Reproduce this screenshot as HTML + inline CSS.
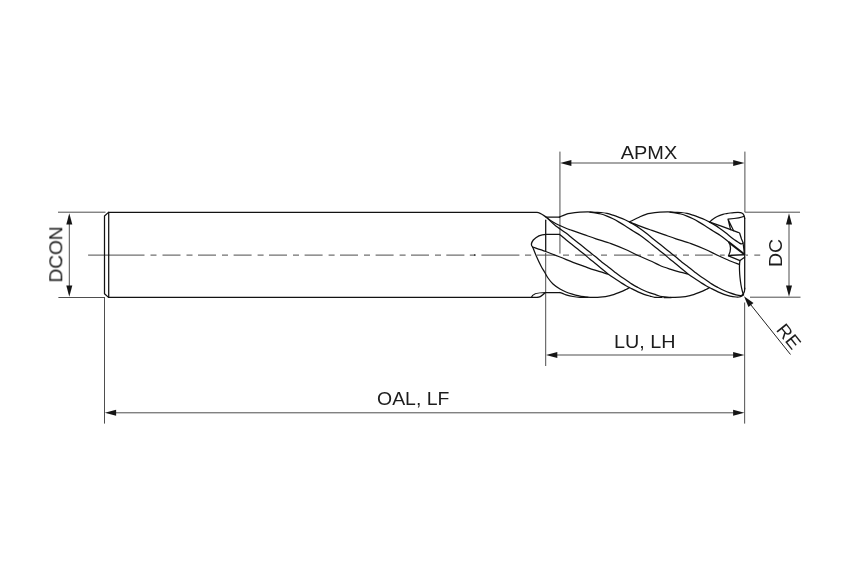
<!DOCTYPE html>
<html lang="en"><head><meta charset="utf-8"><title>End mill dimension drawing</title>
<style>html,body{margin:0;padding:0;background:#fff;}body{width:850px;height:567px;overflow:hidden;}svg{display:block;}</style></head>
<body>
<svg width="850" height="567" viewBox="0 0 850 567">
<defs><filter id="gs" x="0" y="0" width="850" height="567" filterUnits="userSpaceOnUse" color-interpolation-filters="sRGB"><feColorMatrix type="saturate" values="0"/></filter></defs>
<rect width="850" height="567" fill="#fff"/>
<path d="M88.1,255.1H144.5M150.5,255.1H156.5M162.5,255.1H180.5M186.5,255.1H192.5M198.0,255.1H216.0M222.0,255.1H228.0M233.6,255.1H251.6M257.6,255.1H263.6M269.0,255.1H287.0M293.0,255.1H299.0M304.6,255.1H322.6M328.6,255.1H334.6M340.0,255.1H358.0M364.0,255.1H370.0M375.6,255.1H393.6M399.6,255.1H405.6M411.0,255.1H429.0M435.0,255.1H441.0M446.3,255.1H464.4M469.8,255.1H475.6M481.4,255.1H519.4M525.0,255.1H531.2M537.0,255.1H555.0M563.0,255.1H569.0M575.0,255.1H592.0M601.0,255.1H607.0M614.0,255.1H641.0M647.5,255.1H654.0M659.5,255.1H677.0M683.0,255.1H689.0M695.0,255.1H712.7M720.0,255.1H724.7M730.5,255.1H744.0M745.8,255.1H748.0M754.3,255.1H760.2" fill="none" stroke="#707070" stroke-width="1.4"/>
<g fill="none" stroke="#444" stroke-width="0.95">
<path d="M58,212.2 H105.5"/>
<path d="M58.4,297.5 H105"/>
<path d="M69.3,216 V294"/>
<path d="M104.5,297.5 V423.6"/>
<path d="M110,412.8 H740"/>
<path d="M559.95,151.6 V253.6"/>
<path d="M744.9,151.6 V212"/>
<path d="M565,163 H740"/>
<path d="M744.7,212.2 H800"/>
<path d="M750,297.2 H800.5"/>
<path d="M789,218 V292"/>
<path d="M545.7,253 V366"/>
<path d="M551,355 H740"/>
<path d="M744.65,302.5 V423.6"/>
</g>
<path d="M748,301.3 L790.5,354.5" fill="none" stroke="#222" stroke-width="1"/>
<circle cx="474.7" cy="255" r="0.8" fill="#111"/>
<g fill="#151515" stroke="none">
<path d="M69.30,213.20 L72.30,224.50 L66.30,224.50 Z"/>
<path d="M69.30,296.80 L66.30,285.50 L72.30,285.50 Z"/>
<path d="M104.80,412.80 L116.10,409.80 L116.10,415.80 Z"/>
<path d="M744.40,412.80 L733.10,415.80 L733.10,409.80 Z"/>
<path d="M560.10,163.00 L571.40,160.00 L571.40,166.00 Z"/>
<path d="M744.50,163.00 L733.20,166.00 L733.20,160.00 Z"/>
<path d="M789.00,213.20 L792.00,224.50 L786.00,224.50 Z"/>
<path d="M789.00,296.70 L786.00,285.40 L792.00,285.40 Z"/>
<path d="M546.00,355.00 L557.30,352.00 L557.30,358.00 Z"/>
<path d="M744.40,355.00 L733.10,358.00 L733.10,352.00 Z"/>
<path d="M744.00,296.30 L753.49,303.06 L748.49,307.05 Z"/>
</g>
<g fill="none" stroke="#121212" stroke-width="1.25" stroke-linecap="round" stroke-linejoin="round">
<path d="M108.5,212.4 L104.5,216 V293.7 L108.5,297.4"/>
<path d="M108.7,212.4 V297.4"/>
<path d="M108.5,212.4 H537 C540,212.4 542.5,214.6 546.5,217.4"/>
<path d="M108.5,297.4 H537.5"/>
<path d="M546.3,217.2 H559.6"/>
<path d="M559.60,217.20 C559.67,217.13 558.93,217.28 560.00,216.80 C561.07,216.32 564.33,214.88 566.00,214.30 C567.67,213.72 567.67,213.65 570.00,213.30 C572.33,212.95 577.00,212.43 580.00,212.20 C583.00,211.97 585.50,211.88 588.00,211.90 C590.50,211.92 592.83,212.20 595.00,212.30 C597.17,212.40 599.00,212.32 601.00,212.50 C603.00,212.68 605.00,212.95 607.00,213.40 C609.00,213.85 611.00,214.55 613.00,215.20 C615.00,215.85 617.00,216.55 619.00,217.30 C621.00,218.05 623.20,218.90 625.00,219.70 C626.80,220.50 627.80,220.98 629.80,222.10 C631.80,223.22 635.30,225.32 637.00,226.40 C638.70,227.48 638.50,227.48 640.00,228.60 C641.50,229.72 644.00,231.55 646.00,233.10 C648.00,234.65 650.00,236.30 652.00,237.90 C654.00,239.50 656.00,241.10 658.00,242.70 C660.00,244.30 662.00,245.90 664.00,247.50 C666.00,249.10 668.00,250.70 670.00,252.30 C672.00,253.90 674.00,255.45 676.00,257.10 C678.00,258.75 680.00,260.58 682.00,262.20 C684.00,263.82 686.00,265.27 688.00,266.80 C690.00,268.33 692.00,269.87 694.00,271.40 C696.00,272.93 698.00,274.58 700.00,276.00 C702.00,277.42 704.00,278.55 706.00,279.90 C708.00,281.25 710.00,282.83 712.00,284.10 C714.00,285.37 716.00,286.43 718.00,287.50 C720.00,288.57 722.00,289.60 724.00,290.50 C726.00,291.40 728.00,292.18 730.00,292.90 C732.00,293.62 734.20,294.35 736.00,294.80 C737.80,295.25 739.63,295.70 740.80,295.60 C741.97,295.50 742.40,294.88 743.00,294.20 C743.60,293.52 744.12,292.53 744.40,291.50 C744.68,290.47 744.65,288.58 744.70,288.00"/>
<path d="M590.00,212.20 C590.83,212.32 593.17,212.60 595.00,212.90 C596.83,213.20 599.00,213.47 601.00,214.00 C603.00,214.53 605.00,215.30 607.00,216.10 C609.00,216.90 611.00,217.80 613.00,218.80 C615.00,219.80 617.00,220.95 619.00,222.10 C621.00,223.25 623.00,224.45 625.00,225.70 C627.00,226.95 629.00,228.32 631.00,229.60 C633.00,230.88 635.50,232.45 637.00,233.40 C638.50,234.35 638.50,234.25 640.00,235.30 C641.50,236.35 644.00,238.17 646.00,239.70 C648.00,241.23 650.00,242.90 652.00,244.50 C654.00,246.10 656.00,247.70 658.00,249.30 C660.00,250.90 662.00,252.45 664.00,254.10 C666.00,255.75 668.00,257.55 670.00,259.20 C672.00,260.85 674.00,262.35 676.00,264.00 C678.00,265.65 680.00,267.45 682.00,269.10 C684.00,270.75 686.00,272.40 688.00,273.90 C690.00,275.40 692.00,276.75 694.00,278.10 C696.00,279.45 698.00,280.72 700.00,282.00 C702.00,283.28 704.00,284.65 706.00,285.80 C708.00,286.95 710.00,287.88 712.00,288.90 C714.00,289.92 716.00,291.00 718.00,291.90 C720.00,292.80 722.00,293.60 724.00,294.30 C726.00,295.00 728.00,295.65 730.00,296.10 C732.00,296.55 734.50,296.85 736.00,297.00 C737.50,297.15 738.00,297.18 739.00,297.00 C740.00,296.82 741.28,296.32 742.00,295.90 C742.72,295.48 743.08,294.73 743.30,294.50"/>
<path d="M546.50,217.40 C547.92,218.72 551.75,222.68 555.00,225.30 C558.25,227.92 563.17,231.00 566.00,233.10 C568.83,235.20 570.00,236.30 572.00,237.90 C574.00,239.50 576.00,241.10 578.00,242.70 C580.00,244.30 582.00,245.90 584.00,247.50 C586.00,249.10 588.00,250.70 590.00,252.30 C592.00,253.90 594.00,255.45 596.00,257.10 C598.00,258.75 600.00,260.58 602.00,262.20 C604.00,263.82 606.00,265.27 608.00,266.80 C610.00,268.33 612.00,269.87 614.00,271.40 C616.00,272.93 618.00,274.58 620.00,276.00 C622.00,277.42 624.00,278.55 626.00,279.90 C628.00,281.25 630.00,282.83 632.00,284.10 C634.00,285.37 636.00,286.43 638.00,287.50 C640.00,288.57 642.00,289.60 644.00,290.50 C646.00,291.40 648.00,292.18 650.00,292.90 C652.00,293.62 654.00,294.17 656.00,294.80 C658.00,295.43 659.50,296.25 662.00,296.70 C664.50,297.15 669.50,297.37 671.00,297.50"/>
<path d="M559.60,234.40 C560.67,235.28 563.93,238.02 566.00,239.70 C568.07,241.38 570.00,242.90 572.00,244.50 C574.00,246.10 576.00,247.70 578.00,249.30 C580.00,250.90 582.00,252.45 584.00,254.10 C586.00,255.75 588.00,257.55 590.00,259.20 C592.00,260.85 594.00,262.35 596.00,264.00 C598.00,265.65 600.00,267.45 602.00,269.10 C604.00,270.75 606.00,272.40 608.00,273.90 C610.00,275.40 612.00,276.75 614.00,278.10 C616.00,279.45 618.00,280.72 620.00,282.00 C622.00,283.28 624.00,284.65 626.00,285.80 C628.00,286.95 630.00,287.88 632.00,288.90 C634.00,289.92 636.00,291.00 638.00,291.90 C640.00,292.80 642.00,293.60 644.00,294.30 C646.00,295.00 648.20,295.60 650.00,296.10 C651.80,296.60 652.80,297.07 654.80,297.30 C656.80,297.53 660.80,297.47 662.00,297.50"/>
<path d="M629.50,222.00 C631.25,221.13 637.25,218.08 640.00,216.80 C642.75,215.52 644.33,214.88 646.00,214.30 C647.67,213.72 647.67,213.65 650.00,213.30 C652.33,212.95 657.00,212.43 660.00,212.20 C663.00,211.97 665.50,211.88 668.00,211.90 C670.50,211.92 672.83,212.20 675.00,212.30 C677.17,212.40 679.00,212.32 681.00,212.50 C683.00,212.68 685.00,212.95 687.00,213.40 C689.00,213.85 691.00,214.55 693.00,215.20 C695.00,215.85 697.00,216.55 699.00,217.30 C701.00,218.05 703.20,218.90 705.00,219.70 C706.80,220.50 707.80,220.98 709.80,222.10 C711.80,223.22 715.30,225.32 717.00,226.40 C718.70,227.48 718.50,227.48 720.00,228.60 C721.50,229.72 724.00,231.55 726.00,233.10 C728.00,234.65 729.67,236.18 732.00,237.90 C734.33,239.62 738.67,242.48 740.00,243.40"/>
<path d="M670.00,212.20 C670.83,212.32 673.17,212.60 675.00,212.90 C676.83,213.20 679.00,213.47 681.00,214.00 C683.00,214.53 685.00,215.30 687.00,216.10 C689.00,216.90 691.00,217.80 693.00,218.80 C695.00,219.80 697.00,220.95 699.00,222.10 C701.00,223.25 703.00,224.45 705.00,225.70 C707.00,226.95 709.00,228.32 711.00,229.60 C713.00,230.88 715.50,232.45 717.00,233.40 C718.50,234.35 718.50,234.25 720.00,235.30 C721.50,236.35 724.45,238.52 726.00,239.70 C727.55,240.88 728.75,241.95 729.30,242.40"/>
<path d="M709.60,222.10 C710.08,221.67 711.47,220.32 712.50,219.50 C713.53,218.68 714.67,217.85 715.80,217.20 C716.93,216.55 718.10,216.08 719.30,215.60 C720.50,215.12 721.80,214.63 723.00,214.30 C724.20,213.97 725.30,213.82 726.50,213.60 C727.70,213.38 728.95,213.17 730.20,213.00 C731.45,212.83 732.70,212.69 734.00,212.60 C735.30,212.51 736.92,212.45 738.00,212.45 C739.08,212.45 739.80,212.46 740.50,212.60 C741.20,212.74 741.72,213.02 742.20,213.30 C742.68,213.58 743.08,213.88 743.40,214.30 C743.72,214.72 743.88,215.10 744.10,215.80 C744.32,216.50 744.60,218.05 744.70,218.50"/>
<path d="M744.7,218 V289"/>
<path d="M546.50,217.40 C547.58,218.17 549.75,220.18 553.00,222.00 C556.25,223.82 562.83,226.90 566.00,228.30 C569.17,229.70 569.00,229.35 572.00,230.40 C575.00,231.45 580.00,233.20 584.00,234.60 C588.00,236.00 591.50,237.30 596.00,238.80 C600.50,240.30 606.17,241.85 611.00,243.60 C615.83,245.35 620.50,247.32 625.00,249.30 C629.50,251.28 633.50,253.47 638.00,255.50 C642.50,257.53 648.33,259.83 652.00,261.50 C655.67,263.17 657.00,264.23 660.00,265.50 C663.00,266.77 666.67,267.98 670.00,269.10 C673.33,270.22 677.08,271.42 680.00,272.20 C682.92,272.98 686.25,273.53 687.50,273.80"/>
<path d="M630.00,222.30 C631.33,222.80 635.33,224.30 638.00,225.30 C640.67,226.30 643.67,227.45 646.00,228.30 C648.33,229.15 649.00,229.35 652.00,230.40 C655.00,231.45 660.00,233.20 664.00,234.60 C668.00,236.00 671.50,237.30 676.00,238.80 C680.50,240.30 686.17,241.85 691.00,243.60 C695.83,245.35 700.50,247.32 705.00,249.30 C709.50,251.28 714.17,253.72 718.00,255.50 C721.83,257.28 724.42,258.48 728.00,260.00 C731.58,261.52 737.58,263.83 739.50,264.60"/>
<path d="M709.8,222.1 L722,226.3 L730,229.4 L738,232.3 L739.6,233 L741.5,239 L743,242.6 C743.2,243.8 741.5,244.2 740,243.4"/>
<path d="M559.6,234.4 H546 C541,234.6 536.5,236.5 533.3,240 C531,243 531,245.5 532.6,247"/>
<path d="M532.60,247.00 C534.78,247.75 541.13,249.83 545.70,251.50 C550.27,253.17 555.45,255.20 560.00,257.00 C564.55,258.80 568.83,260.68 573.00,262.30 C577.17,263.92 581.33,265.38 585.00,266.70 C588.67,268.02 591.25,268.98 595.00,270.20 C598.75,271.42 605.42,273.37 607.50,274.00"/>
<path d="M532.80,247.30 C533.42,248.83 535.13,253.38 536.50,256.50 C537.87,259.62 539.67,263.42 541.00,266.00 C542.33,268.58 543.33,270.00 544.50,272.00 C545.67,274.00 546.58,276.00 548.00,278.00 C549.42,280.00 551.00,282.17 553.00,284.00 C555.00,285.83 557.83,287.67 560.00,289.00 C562.17,290.33 563.83,291.12 566.00,292.00 C568.17,292.88 571.00,293.70 573.00,294.30 C575.00,294.90 576.17,295.20 578.00,295.60 C579.83,296.00 582.00,296.42 584.00,296.70 C586.00,296.98 587.33,297.22 590.00,297.30 C592.67,297.38 596.67,297.47 600.00,297.20 C603.33,296.93 606.67,296.53 610.00,295.70 C613.33,294.87 617.33,293.23 620.00,292.20 C622.67,291.17 624.42,290.28 626.00,289.50 C627.58,288.72 628.92,287.83 629.50,287.50"/>
<path d="M670.00,297.30 C671.67,297.28 676.67,297.47 680.00,297.20 C683.33,296.93 686.67,296.53 690.00,295.70 C693.33,294.87 697.33,293.23 700.00,292.20 C702.67,291.17 704.42,290.28 706.00,289.50 C707.58,288.72 708.92,287.83 709.50,287.50"/>
<path d="M671,297.5 H664"/>
<path d="M545.7,220.2 V251.5"/>
<path d="M545.5,292.5 H559.7"/>
<path d="M559.70,292.50 C560.25,292.68 561.95,293.22 563.00,293.60 C564.05,293.98 564.33,294.32 566.00,294.80 C567.67,295.28 570.67,296.08 573.00,296.50 C575.33,296.92 577.50,297.15 580.00,297.30 C582.50,297.45 586.67,297.38 588.00,297.40"/>
<path d="M531.5,297.2 C532,295 536,292.6 545.5,292.5 C543,294.5 541,297.3 537.5,297.4"/>
<path d="M744,216.3 C741.5,218 737,218.4 728,219.2 L730.6,229.7 M728,219.2 L733.6,230.7"/>
<path d="M729.3,242.6 L744.3,254.3" stroke-width="2.0"/>
<path d="M729,242.2 C731,246 731.5,250 728.5,255.7 L744.3,254.5"/>
<path d="M728.5,255.9 L740,260.6 L744.6,257.3"/>
<path d="M740.00,260.60 C739.92,261.27 739.58,263.03 739.50,264.60 C739.42,266.17 739.42,267.85 739.50,270.00 C739.58,272.15 739.75,275.00 740.00,277.50 C740.25,280.00 740.62,282.75 741.00,285.00 C741.38,287.25 741.87,289.33 742.30,291.00 C742.73,292.67 743.38,294.33 743.60,295.00"/>
<path d="M743,243 C743.8,247 744,251 744.4,254.3"/>
</g>
<g font-family="'Liberation Sans', Arial, sans-serif" font-size="18.4" fill="#1c1c1c" filter="url(#gs)">
<text id="t_apmx" x="649" y="159.4" text-anchor="middle" textLength="56.5" lengthAdjust="spacingAndGlyphs">APMX</text>
<text id="t_lu" x="644.7" y="347.9" text-anchor="middle" textLength="61.5" lengthAdjust="spacingAndGlyphs">LU, LH</text>
<text id="t_oal" x="413.2" y="404.6" text-anchor="middle" textLength="72.3" lengthAdjust="spacingAndGlyphs">OAL, LF</text>
<text id="t_dcon" transform="translate(62.3,254.5) rotate(-90)" x="0" y="0" text-anchor="middle" textLength="56.2" lengthAdjust="spacingAndGlyphs">DCON</text>
<text id="t_dc" transform="translate(782,253) rotate(-90)" x="0" y="0" text-anchor="middle" textLength="28.2" lengthAdjust="spacingAndGlyphs">DC</text>
<text id="t_re" transform="translate(775.6,330.0) rotate(51.4)" x="0" y="0" textLength="26.5" lengthAdjust="spacingAndGlyphs">RE</text>
</g>
</svg>
</body></html>
